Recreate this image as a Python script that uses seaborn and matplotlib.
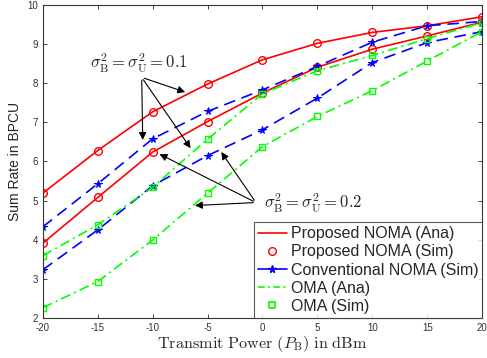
import numpy as np
import pandas as pd
import matplotlib
matplotlib.use("Agg")
import matplotlib.pyplot as plt
from matplotlib.lines import Line2D
import seaborn as sns

power = [-20, -15, -10, -5, 0, 5, 10, 15, 20]
prop_01 = [5.19, 6.28, 7.27, 7.98, 8.60, 9.02, 9.30, 9.47, 9.70]
prop_02 = [3.91, 5.08, 6.24, 7.02, 7.75, 8.41, 8.87, 9.21, 9.56]
conv_01 = [4.33, 5.43, 6.58, 7.28, 7.83, 8.43, 9.05, 9.47, 9.58]
conv_02 = [3.23, 4.25, 5.38, 6.15, 6.81, 7.62, 8.53, 9.04, 9.32]
oma_01 = [3.59, 4.38, 5.34, 6.57, 7.73, 8.32, 8.71, 9.14, 9.55]
oma_02 = [2.26, 2.93, 3.99, 5.19, 6.38, 7.15, 7.81, 8.57, 9.32]
legend_labels = ["Proposed NOMA (Ana)", "Proposed NOMA (Sim)",
                 "Conventional NOMA (Sim)", "OMA (Ana)", "OMA (Sim)"]

sns.set_theme(style="ticks")
SANS = ["Liberation Sans", "DejaVu Sans"]
plt.rcParams["font.family"] = SANS
plt.rcParams["mathtext.fontset"] = "cm"
plt.rcParams["axes.unicode_minus"] = False

RED = "#ff0000"
BLUE = "#0000ff"
GREEN = "#00ff00"
DASH = (0, (7, 4))
DASHDOT = (0, (6, 2.5, 1.2, 2.5))

fig = plt.figure(figsize=(4.87, 3.58), dpi=100)
ax = fig.add_axes([0.088, 0.112, 0.902, 0.874])

for y in (prop_01, prop_02):
    d = pd.DataFrame({"x": power, "y": y})
    sns.lineplot(data=d, x="x", y="y", ax=ax, color=RED, lw=1.2,
                 marker="o", markersize=5.5, markerfacecolor="none",
                 markeredgecolor=RED, markeredgewidth=1.0)
for y in (conv_01, conv_02):
    d = pd.DataFrame({"x": power, "y": y})
    sns.lineplot(data=d, x="x", y="y", ax=ax, color=BLUE, lw=1.2,
                 marker="*", markersize=5.5, markerfacecolor=BLUE,
                 markeredgecolor=BLUE)
    ax.lines[-1].set_linestyle(DASH)
for y in (oma_01, oma_02):
    d = pd.DataFrame({"x": power, "y": y})
    sns.lineplot(data=d, x="x", y="y", ax=ax, color=GREEN, lw=1.2,
                 marker="s", markersize=4.5, markerfacecolor="none",
                 markeredgecolor=GREEN, markeredgewidth=1.0)
    ax.lines[-1].set_linestyle(DASHDOT)

ax.set_xlim(-20, 20)
ax.set_ylim(2, 10)
ax.set_xticks(power)
ax.set_yticks(range(2, 11))
ax.tick_params(direction="in", top=True, right=True, labelsize=7,
               labelcolor="#333333", length=3, width=0.6)
for lab in ax.get_xticklabels() + ax.get_yticklabels():
    lab.set_family(SANS)
for s in ax.spines.values():
    s.set_linewidth(0.8)
    s.set_color("#333333")

ax.set_xlabel(r"$\mathrm{Transmit\ Power\ (}P_{\mathrm{B}}\mathrm{)\ in\ dBm}$",
              fontsize=11.7, labelpad=1)
ax.set_ylabel("Sum Rate in BPCU", fontsize=10, labelpad=4, family=SANS)

arrow = dict(arrowstyle="-|>", color="black", lw=0.8, mutation_scale=11)
ax.text(-11.3, 8.5, r"$\sigma_{\mathrm{B}}^2=\sigma_{\mathrm{U}}^2=0.1$",
        fontsize=12, ha="center", va="center")
o1 = (-11.0, 8.15)
for t in [(-6.8, 7.75), (-10.9, 6.48), (-6.4, 6.28)]:
    ax.annotate("", xy=t, xytext=o1, arrowprops=arrow)
ax.text(0.1, 4.93, r"$\sigma_{\mathrm{B}}^2=\sigma_{\mathrm{U}}^2=0.2$",
        fontsize=12, ha="left", va="center")
o2 = (-0.6, 4.95)
for t in [(-9.6, 6.22), (-3.9, 6.3), (-6.4, 4.87)]:
    ax.annotate("", xy=t, xytext=o2, arrowprops=arrow)

handles = [
    Line2D([], [], color=RED, lw=1.2),
    Line2D([], [], color=RED, lw=0, marker="o", markerfacecolor="none",
           markeredgecolor=RED, markersize=5.5),
    Line2D([], [], color=BLUE, lw=1.2, marker="*", markersize=5.5),
    Line2D([], [], color=GREEN, lw=1.2, linestyle=(0, (4, 2, 1.2, 2))),
    Line2D([], [], color=GREEN, lw=0, marker="s", markerfacecolor="none",
           markeredgecolor=GREEN, markersize=4.5, markeredgewidth=1.2),
]
leg = ax.legend(handles, legend_labels, loc="lower right",
                frameon=True, fancybox=False, borderaxespad=0,
                handlelength=1.8, handletextpad=0.25, labelspacing=0.2,
                borderpad=0.25, prop={"family": SANS, "size": 11.5})
leg.get_frame().set_edgecolor("#333333")
leg.get_frame().set_linewidth(0.8)

fig.savefig("out.png", dpi=100)
